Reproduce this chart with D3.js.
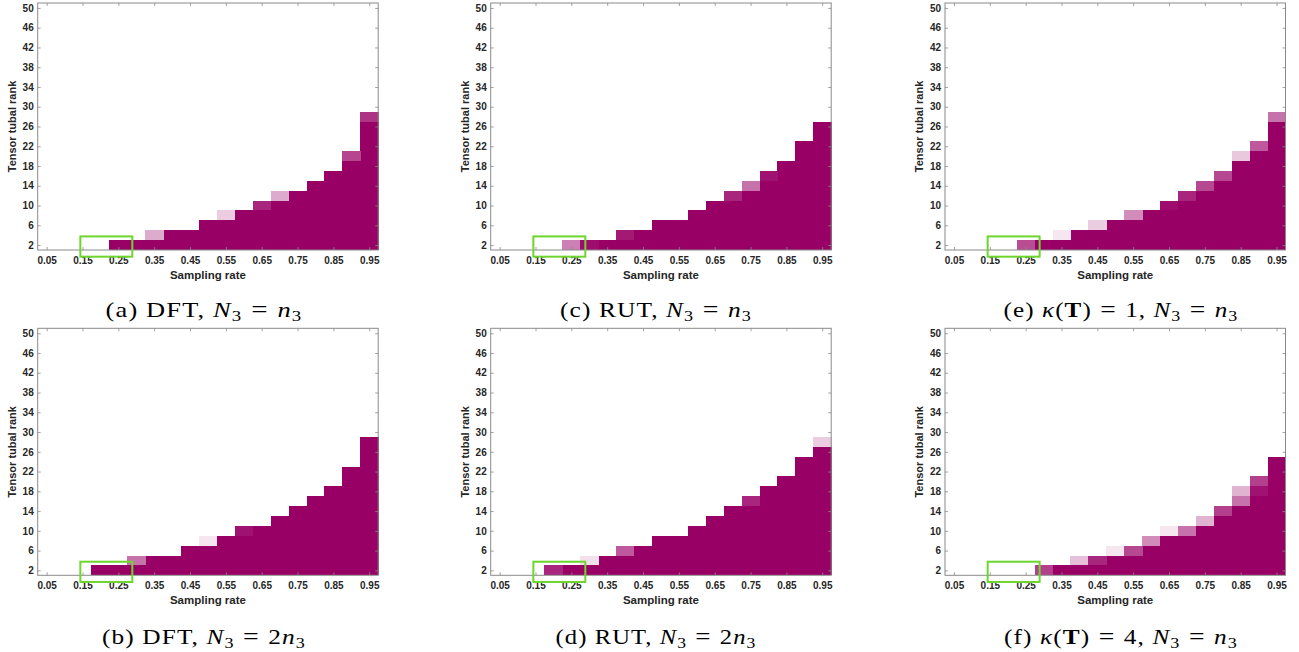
<!DOCTYPE html>
<html><head><meta charset="utf-8">
<script src="https://cdn.jsdelivr.net/npm/d3@7"></script>
<style>body{margin:0;background:#fff;} svg{display:block;}</style>
</head><body>
<svg id="c" width="1299" height="652"></svg>
<script>
// ---- data ----
const rates = [0.05,0.10,0.15,0.20,0.25,0.30,0.35,0.40,0.45,0.50,0.55,0.60,0.65,0.70,0.75,0.80,0.85,0.90,0.95];
const xTickVals = [0.05,0.15,0.25,0.35,0.45,0.55,0.65,0.75,0.85,0.95];
const yTickVals = [2,6,10,14,18,22,26,30,34,38,42,46,50];
// highest rank recovered with probability 1 for each sampling rate (0 = none)
const aTop = [0,0,0,0,2,2,2,4,4,6,6,8,8,10,12,14,16,18,26];
const bTop = [0,0,0,2,2,2,4,4,6,6,8,8,10,12,14,16,18,22,28];
const cTop = [0,0,0,0,0,2,2,2,4,6,6,8,10,10,12,14,18,22,26];
const dTop = [0,0,0,0,2,2,4,4,6,8,8,10,12,14,14,18,20,24,26];
const eTop = [0,0,0,0,0,2,2,4,4,6,6,8,8,10,12,14,18,20,26];
const fTop = [0,0,0,0,0,0,2,2,2,4,4,6,8,8,10,12,14,16,24];
// partial recovery cells: [rate, rank, success fraction]
const aPartial = [[0.35,4,0.33],[0.55,8,0.2],[0.65,10,0.85],[0.70,12,0.33],[0.90,20,0.73],[0.95,28,0.8]];
const bPartial = [[0.30,4,0.55],[0.50,8,0.1],[0.60,10,0.93]];
const cPartial = [[0.25,2,0.5],[0.30,2,0.95],[0.40,4,0.9],[0.70,12,0.85],[0.75,14,0.55],[0.80,16,0.93]];
const dPartial = [[0.20,2,0.85],[0.30,4,0.12],[0.40,6,0.65],[0.75,16,0.85],[0.95,28,0.2]];
const ePartial = [[0.25,2,0.7],[0.35,4,0.1],[0.45,6,0.2],[0.55,8,0.45],[0.65,10,0.95],[0.70,12,0.85],[0.75,14,0.72],[0.80,16,0.72],[0.85,20,0.22],[0.90,22,0.65],[0.95,28,0.55]];
const fPartial = [[0.30,2,0.75],[0.40,4,0.25],[0.45,4,0.85],[0.50,6,0.1],[0.55,6,0.72],[0.60,8,0.45],[0.65,10,0.1],[0.70,10,0.55],[0.75,12,0.3],[0.80,14,0.75],[0.85,16,0.55],[0.85,18,0.3],[0.90,18,0.93],[0.90,20,0.75]];
// highlight box: [rate0, rate1, rank0, rank1]
const boxRegion = [0.144, 0.289, -0.35, 3.75];
// captions: [text, style] r=roman i=italic s=subscript b=bold o=relation (extra space)
const capA = [["(a) DFT, ","r"],["N","i"],["3","s"],["=","o"],["n","i"],["3","s"]];
const capB = [["(b) DFT, ","r"],["N","i"],["3","s"],["=","o"],["2","r"],["n","i"],["3","s"]];
const capC = [["(c) RUT, ","r"],["N","i"],["3","s"],["=","o"],["n","i"],["3","s"]];
const capD = [["(d) RUT, ","r"],["N","i"],["3","s"],["=","o"],["2","r"],["n","i"],["3","s"]];
const capE = [["(e) ","r"],["κ","i"],["(","r"],["T","b"],[")","r"],["=","o"],["1, ","r"],["N","i"],["3","s"],["=","o"],["n","i"],["3","s"]];
const capF = [["(f) ","r"],["κ","i"],["(","r"],["T","b"],[")","r"],["=","o"],["4, ","r"],["N","i"],["3","s"],["=","o"],["n","i"],["3","s"]];

const panels = [
  {top:aTop, partial:aPartial, cap:capA, col:0, row:0, capW:197},
  {top:bTop, partial:bPartial, cap:capB, col:0, row:1, capW:204},
  {top:cTop, partial:cPartial, cap:capC, col:1, row:0, capW:192},
  {top:dTop, partial:dPartial, cap:capD, col:1, row:1, capW:201},
  {top:eTop, partial:ePartial, cap:capE, col:2, row:0, capW:235},
  {top:fTop, partial:fPartial, cap:capF, col:2, row:1, capW:234}
];

// ---- layout ----
const colLeft = [37.7, 490.7, 945];
const rowTop = [3, 328.3];
const W = 340.5, H = 247;
const capX = [204, 656, 1121];
const capY = [317, 644];
const dark = "#990066";
const color = v => d3.interpolateRgb("#ffffff", dark)(v);
const axisCol = "#8a8a8a", textCol = "#262626";
const sansB = "'Liberation Sans', Arial, Helvetica, sans-serif";

const svg = d3.select("#c");

panels.forEach(p => {
  const L = colLeft[p.col], T = rowTop[p.row];
  const g = svg.append("g").attr("transform", `translate(${L},${T})`);
  const x = d3.scaleLinear().domain([0.025, 0.975]).range([0, W]);
  const y = d3.scaleLinear().domain([1, 51]).range([H, 0]);
  const hw = 0.025;

  // full-recovery columns
  const full = rates.map((r,i)=>({r, t:p.top[i]})).filter(d=>d.t>0);
  g.selectAll("rect.full").data(full).join("rect")
    .attr("x", d=>x(d.r-hw)).attr("width", d=>x(d.r+hw)-x(d.r-hw)+0.4)
    .attr("y", d=>y(d.t+1)).attr("height", d=>y(1)-y(d.t+1))
    .attr("fill", dark).attr("shape-rendering","crispEdges");
  // partial cells
  g.selectAll("rect.part").data(p.partial).join("rect")
    .attr("x", d=>x(d[0]-hw)).attr("width", d=>x(d[0]+hw)-x(d[0]-hw)+0.4)
    .attr("y", d=>y(d[1]+1)).attr("height", d=>y(d[1]-1)-y(d[1]+1))
    .attr("fill", d=>color(d[2])).attr("shape-rendering","crispEdges");

  // axes
  const fmt = d3.format(".2f");
  const ax = g.append("g").attr("transform",`translate(0,${H})`)
    .call(d3.axisBottom(x).tickValues(xTickVals).tickFormat(fmt).tickSizeInner(-3).tickSizeOuter(0).tickPadding(7));
  const ay = g.append("g")
    .call(d3.axisLeft(y).tickValues(yTickVals).tickSizeInner(-3).tickSizeOuter(0).tickPadding(4));
  const at = g.append("g")
    .call(d3.axisTop(x).tickValues(xTickVals).tickFormat("").tickSizeInner(-3).tickSizeOuter(0));
  const ar = g.append("g").attr("transform",`translate(${W},0)`)
    .call(d3.axisRight(y).tickValues(yTickVals).tickFormat("").tickSizeInner(-3).tickSizeOuter(0));
  [ax,ay,at,ar].forEach(a=>{
    a.select(".domain").remove();
    a.selectAll(".tick line").attr("stroke", axisCol).attr("stroke-width",0.8);
    a.selectAll(".tick text").attr("fill", textCol).attr("font-family", sansB)
      .attr("font-weight","bold").attr("font-size",10);
  });
  g.append("rect").attr("x",0).attr("y",0).attr("width",W).attr("height",H)
    .attr("fill","none").attr("stroke",axisCol).attr("stroke-width",1);

  // highlight box
  g.append("rect")
    .attr("x", x(boxRegion[0])).attr("width", x(boxRegion[1])-x(boxRegion[0]))
    .attr("y", y(boxRegion[3])).attr("height", y(boxRegion[2])-y(boxRegion[3]))
    .attr("fill","none").attr("stroke","#6cd62c").attr("stroke-width",2);

  // axis labels
  g.append("text").attr("x", W/2).attr("y", H+25).attr("text-anchor","middle")
    .attr("dominant-baseline","central").attr("font-family",sansB).attr("font-weight","bold")
    .attr("font-size",11.5).attr("fill",textCol).text("Sampling rate");
  g.append("text").attr("transform",`translate(-26,${H/2}) rotate(-90)`).attr("text-anchor","middle")
    .attr("dominant-baseline","central").attr("font-family",sansB).attr("font-weight","bold")
    .attr("font-size",11).attr("fill",textCol).text("Tensor tubal rank");

  // caption: serif text with TeX-like spacing, widened slightly to the reference width
  const cg = svg.append("g");
  const t = cg.append("text").attr("x", 0).attr("y", 0)
    .attr("text-anchor","middle").attr("font-family","'Liberation Serif','Times New Roman',serif")
    .attr("font-size",21).attr("letter-spacing",0.9).attr("fill","#000");
  let shift = 0, pendingDx = 0;
  p.cap.forEach(([s,st])=>{
    const ts = t.append("tspan").text(s);
    let dy = 0, dx = pendingDx;
    pendingDx = 0;
    if (st==="s") { ts.attr("font-size",15); dy = 4 - shift; shift = 4; }
    else { dy = -shift; shift = 0; }
    if (st==="i") ts.attr("font-style","italic");
    if (st==="b") ts.attr("font-weight","bold");
    if (st==="o") { ts.attr("font-size",23); dx += 7; pendingDx = 7; }
    if (dy) ts.attr("dy", dy);
    if (dx) ts.attr("dx", dx);
  });
  const bw = t.node().getBBox().width;
  const sx = Math.max(1, p.capW / bw);
  cg.attr("transform", `translate(${capX[p.col]},${capY[p.row]}) scale(${sx},1)`);
});
</script>
</body></html>
